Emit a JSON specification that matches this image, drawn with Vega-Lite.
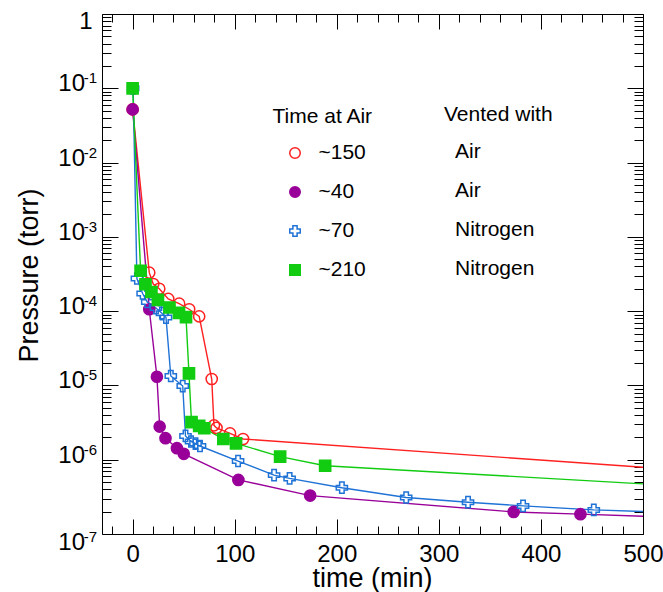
{
  "$schema": "https://vega.github.io/schema/vega-lite/v6.json",
  "width": 541,
  "height": 520,
  "autosize": {"type": "none"},
  "padding": {"left": 102, "top": 14, "right": 20, "bottom": 58},
  "background": "white",
  "config": {
    "font": "Liberation Sans",
    "view": {"stroke": "#000", "strokeWidth": 1},
    "axis": {"domain": false, "grid": false, "tickColor": "#000", "tickWidth": 1, "labelColor": "#000", "titleColor": "#000", "labelFont": "Liberation Sans", "titleFont": "Liberation Sans", "titleFontWeight": "normal", "labelFlush": false, "labelOverlap": false, "labelBound": false},
    "legend": {"padding": 0, "titleFontSize": 21, "labelFontSize": 21, "titleFontWeight": "normal", "titleColor": "#000", "labelColor": "#000", "titleFont": "Liberation Sans", "labelFont": "Liberation Sans", "rowPadding": 17, "titlePadding": 16, "symbolStrokeWidth": 1.5, "symbolSize": 110}
  },
  "data": {"values": [
    {"t": 0, "p": 0.052, "series": "~150", "group": "~150 Air"},
    {"t": 16.3, "p": 3.3e-4, "series": "~150", "group": "~150 Air"},
    {"t": 20.2, "p": 2.32e-4, "series": "~150", "group": "~150 Air"},
    {"t": 26.1, "p": 2.0e-4, "series": "~150", "group": "~150 Air"},
    {"t": 34.9, "p": 1.46e-4, "series": "~150", "group": "~150 Air"},
    {"t": 45.6, "p": 1.26e-4, "series": "~150", "group": "~150 Air"},
    {"t": 55.4, "p": 1.06e-4, "series": "~150", "group": "~150 Air"},
    {"t": 65.2, "p": 8.5e-5, "series": "~150", "group": "~150 Air"},
    {"t": 77.5, "p": 1.22e-5, "series": "~150", "group": "~150 Air"},
    {"t": 79.7, "p": 2.9e-6, "series": "~150", "group": "~150 Air"},
    {"t": 82.2, "p": 2.68e-6, "series": "~150", "group": "~150 Air"},
    {"t": 95.4, "p": 2.26e-6, "series": "~150", "group": "~150 Air"},
    {"t": 108.2, "p": 1.9e-6, "series": "~150", "group": "~150 Air"},
    {"t": 700, "p": 5.07e-7, "series": "~150", "group": "~150 Air"},
    {"t": 0, "p": 0.052, "series": "~40", "group": "~40 Air"},
    {"t": 16.3, "p": 1.06e-4, "series": "~40", "group": "~40 Air"},
    {"t": 23.8, "p": 1.31e-5, "series": "~40", "group": "~40 Air"},
    {"t": 26.5, "p": 2.79e-6, "series": "~40", "group": "~40 Air"},
    {"t": 32.2, "p": 1.95e-6, "series": "~40", "group": "~40 Air"},
    {"t": 43.4, "p": 1.43e-6, "series": "~40", "group": "~40 Air"},
    {"t": 50.1, "p": 1.2e-6, "series": "~40", "group": "~40 Air"},
    {"t": 103.6, "p": 5.35e-7, "series": "~40", "group": "~40 Air"},
    {"t": 173.9, "p": 3.29e-7, "series": "~40", "group": "~40 Air"},
    {"t": 373.3, "p": 1.98e-7, "series": "~40", "group": "~40 Air"},
    {"t": 438.7, "p": 1.85e-7, "series": "~40", "group": "~40 Air"},
    {"t": 700, "p": 1.4e-7, "series": "~40", "group": "~40 Air"},
    {"t": 0.5, "p": 0.1, "series": "~70", "group": "~70 Nitrogen"},
    {"t": 4.2, "p": 2.75e-4, "series": "~70", "group": "~70 Nitrogen"},
    {"t": 9.8, "p": 1.73e-4, "series": "~70", "group": "~70 Nitrogen"},
    {"t": 14.3, "p": 1.33e-4, "series": "~70", "group": "~70 Nitrogen"},
    {"t": 22.9, "p": 1.1e-4, "series": "~70", "group": "~70 Nitrogen"},
    {"t": 28.7, "p": 9.4e-5, "series": "~70", "group": "~70 Nitrogen"},
    {"t": 32.7, "p": 8.2e-5, "series": "~70", "group": "~70 Nitrogen"},
    {"t": 37.4, "p": 1.34e-5, "series": "~70", "group": "~70 Nitrogen"},
    {"t": 49.1, "p": 9.8e-6, "series": "~70", "group": "~70 Nitrogen"},
    {"t": 51.8, "p": 2.09e-6, "series": "~70", "group": "~70 Nitrogen"},
    {"t": 57.2, "p": 1.76e-6, "series": "~70", "group": "~70 Nitrogen"},
    {"t": 61.6, "p": 1.65e-6, "series": "~70", "group": "~70 Nitrogen"},
    {"t": 66, "p": 1.53e-6, "series": "~70", "group": "~70 Nitrogen"},
    {"t": 103.3, "p": 9.6e-7, "series": "~70", "group": "~70 Nitrogen"},
    {"t": 138.6, "p": 6.2e-7, "series": "~70", "group": "~70 Nitrogen"},
    {"t": 153.8, "p": 5.6e-7, "series": "~70", "group": "~70 Nitrogen"},
    {"t": 205, "p": 4.2e-7, "series": "~70", "group": "~70 Nitrogen"},
    {"t": 268, "p": 3.1e-7, "series": "~70", "group": "~70 Nitrogen"},
    {"t": 328.6, "p": 2.68e-7, "series": "~70", "group": "~70 Nitrogen"},
    {"t": 382.5, "p": 2.39e-7, "series": "~70", "group": "~70 Nitrogen"},
    {"t": 451.8, "p": 2.11e-7, "series": "~70", "group": "~70 Nitrogen"},
    {"t": 700, "p": 1.62e-7, "series": "~70", "group": "~70 Nitrogen"},
    {"t": 0, "p": 0.1, "series": "~210", "group": "~210 Nitrogen"},
    {"t": 7.8, "p": 3.5e-4, "series": "~210", "group": "~210 Nitrogen"},
    {"t": 12.6, "p": 2.3e-4, "series": "~210", "group": "~210 Nitrogen"},
    {"t": 18.4, "p": 1.81e-4, "series": "~210", "group": "~210 Nitrogen"},
    {"t": 24.8, "p": 1.42e-4, "series": "~210", "group": "~210 Nitrogen"},
    {"t": 36.1, "p": 1.12e-4, "series": "~210", "group": "~210 Nitrogen"},
    {"t": 45.4, "p": 9.5e-5, "series": "~210", "group": "~210 Nitrogen"},
    {"t": 52.3, "p": 8.3e-5, "series": "~210", "group": "~210 Nitrogen"},
    {"t": 55.2, "p": 1.45e-5, "series": "~210", "group": "~210 Nitrogen"},
    {"t": 57.7, "p": 3.2e-6, "series": "~210", "group": "~210 Nitrogen"},
    {"t": 65.2, "p": 2.85e-6, "series": "~210", "group": "~210 Nitrogen"},
    {"t": 70.2, "p": 2.65e-6, "series": "~210", "group": "~210 Nitrogen"},
    {"t": 88.9, "p": 1.9e-6, "series": "~210", "group": "~210 Nitrogen"},
    {"t": 101.3, "p": 1.66e-6, "series": "~210", "group": "~210 Nitrogen"},
    {"t": 144.5, "p": 1.1e-6, "series": "~210", "group": "~210 Nitrogen"},
    {"t": 188.6, "p": 8.3e-7, "series": "~210", "group": "~210 Nitrogen"},
    {"t": 700, "p": 3.3e-7, "series": "~210", "group": "~210 Nitrogen"}
  ]},
  "resolve": {"axis": {"x": "independent", "y": "independent"}},
  "layer": [
    {
      "mark": {"type": "line", "strokeWidth": 1.4, "clip": true},
      "encoding": {
        "x": {"field": "t", "type": "quantitative", "scale": {"domain": [-30, 500], "nice": false, "zero": false},
          "axis": {"orient": "bottom", "values": [0, 100, 200, 300, 400, 500], "ticks": false, "labelPadding": 8, "labelFontSize": 24, "title": "time (min)", "titleFontSize": 27, "titleX": 270, "titleY": 52, "titleBaseline": "alphabetic"}},
        "y": {"field": "p", "type": "quantitative", "scale": {"type": "log", "domain": [1e-7, 1], "nice": false},
          "axis": {"orient": "left", "values": [1e-7, 1e-6, 1e-5, 1e-4, 1e-3, 1e-2, 1e-1, 1], "ticks": false, "labelExpr": "datum.value >= 0.5 ? '1' : '10'", "labelPadding": {"expr": "datum.value >= 0.5 ? 10 : 17.5"}, "labelOffset": {"expr": "datum.value >= 0.5 ? 7 : (datum.value < 2e-7 ? 8 : -4.5)"}, "labelFontSize": 24, "title": "Pressure (torr)", "titleFontSize": 27, "titleAngle": -90, "titleX": -59, "titleY": 261, "titleBaseline": "bottom", "titleAlign": "center"}},
        "stroke": {"field": "series", "type": "nominal", "scale": {"domain": ["~150", "~40", "~70", "~210"], "range": ["#ff2020", "#990099", "#1f72d6", "#11cc11"]},
          "legend": {"title": "Time at Air", "orient": "none", "legendX": 170.5, "legendY": 91.5, "symbolOffset": 12, "labelOffset": 13}},
        "detail": {"field": "series"}
      }
    },
    {
      "mark": {"type": "point", "strokeWidth": 1.5, "clip": true, "opacity": 1, "size": 125},
      "encoding": {
        "x": {"field": "t", "type": "quantitative",
          "axis": {"orient": "bottom", "values": [0, 100, 200, 300, 400, 500], "labels": false, "tickSize": -15, "title": null}},
        "y": {"field": "p", "type": "quantitative",
          "axis": {"orient": "left", "values": [1e-7, 1e-6, 1e-5, 1e-4, 1e-3, 1e-2, 1e-1], "ticks": false, "labelExpr": "'-' + format(-log(datum.value)/LN10, '.0f')", "labelFontSize": 15, "labelPadding": 5.5, "labelOffset": {"expr": "datum.value < 2e-7 ? 2 : -10.5"}, "title": null}},
        "stroke": {"field": "series", "type": "nominal", "scale": {"domain": ["~150", "~40", "~70", "~210"], "range": ["#ff2020", "#990099", "#1f72d6", "#11cc11"]},
          "legend": {"title": "Time at Air", "orient": "none", "legendX": 170.5, "legendY": 91.5, "symbolOffset": 12, "labelOffset": 13}},
        "fill": {"field": "series", "type": "nominal", "scale": {"domain": ["~150", "~40", "~70", "~210"], "range": ["transparent", "#990099", "transparent", "#11cc11"]},
          "legend": {"title": "Time at Air", "orient": "none", "legendX": 170.5, "legendY": 91.5, "symbolOffset": 12, "labelOffset": 13}},
        "shape": {"field": "series", "type": "nominal", "scale": {"domain": ["~150", "~40", "~70", "~210"], "range": ["circle", "circle", "cross", "square"]},
          "legend": {"title": "Time at Air", "orient": "none", "legendX": 170.5, "legendY": 91.5, "symbolOffset": 12, "labelOffset": 13}},
        "opacity": {"field": "group", "type": "ordinal", "scale": {"domain": ["~150 Air", "~40 Air", "~70 Nitrogen", "~210 Nitrogen"], "range": [1, 1, 1, 1]},
          "legend": {"title": "Vented with", "orient": "top-right", "offset": 90, "labelExpr": "split(datum.label, ' ')[1]", "symbolSize": 0, "symbolStrokeWidth": 0, "symbolFillColor": "transparent", "symbolStrokeColor": "transparent", "symbolOffset": 0, "labelOffset": -10}}
      }
    },
    {
      "mark": {"type": "point", "opacity": 0},
      "encoding": {
        "x": {"field": "t", "type": "quantitative",
          "axis": {"orient": "bottom", "values": [-20, 20, 40, 60, 80, 120, 140, 160, 180, 220, 240, 260, 280, 320, 340, 360, 380, 420, 440, 460, 480], "labels": false, "tickSize": -8, "title": null}},
        "y": {"field": "p", "type": "quantitative",
          "axis": {"orient": "left", "values": [1e-7, 1e-6, 1e-5, 1e-4, 1e-3, 1e-2, 1e-1, 1], "labels": false, "tickSize": -16, "title": null}}
      }
    },
    {
      "mark": {"type": "point", "opacity": 0},
      "encoding": {
        "x": {"field": "t", "type": "quantitative",
          "axis": {"orient": "top", "values": [0, 100, 200, 300, 400, 500], "labels": false, "tickSize": -15, "title": null}},
        "y": {"field": "p", "type": "quantitative",
          "axis": {"orient": "left", "values": [2e-7, 3e-7, 4e-7, 5e-7, 6e-7, 7e-7, 8e-7, 9e-7, 2e-6, 3e-6, 4e-6, 5e-6, 6e-6, 7e-6, 8e-6, 9e-6, 2e-5, 3e-5, 4e-5, 5e-5, 6e-5, 7e-5, 8e-5, 9e-5, 2e-4, 3e-4, 4e-4, 5e-4, 6e-4, 7e-4, 8e-4, 9e-4, 2e-3, 3e-3, 4e-3, 5e-3, 6e-3, 7e-3, 8e-3, 9e-3, 2e-2, 3e-2, 4e-2, 5e-2, 6e-2, 7e-2, 8e-2, 9e-2, 0.2, 0.3, 0.4, 0.5, 0.6, 0.7, 0.8, 0.9], "labels": false, "tickSize": -9, "title": null}}
      }
    },
    {
      "mark": {"type": "point", "opacity": 0},
      "encoding": {
        "x": {"field": "t", "type": "quantitative",
          "axis": {"orient": "top", "values": [-20, 20, 40, 60, 80, 120, 140, 160, 180, 220, 240, 260, 280, 320, 340, 360, 380, 420, 440, 460, 480], "labels": false, "tickSize": -8, "title": null}},
        "y": {"field": "p", "type": "quantitative",
          "axis": {"orient": "right", "values": [1e-7, 1e-6, 1e-5, 1e-4, 1e-3, 1e-2, 1e-1, 1], "labels": false, "tickSize": -16, "title": null}}
      }
    },
    {
      "mark": {"type": "point", "opacity": 0},
      "encoding": {
        "x": {"field": "t", "type": "quantitative", "axis": null},
        "y": {"field": "p", "type": "quantitative",
          "axis": {"orient": "right", "values": [2e-7, 3e-7, 4e-7, 5e-7, 6e-7, 7e-7, 8e-7, 9e-7, 2e-6, 3e-6, 4e-6, 5e-6, 6e-6, 7e-6, 8e-6, 9e-6, 2e-5, 3e-5, 4e-5, 5e-5, 6e-5, 7e-5, 8e-5, 9e-5, 2e-4, 3e-4, 4e-4, 5e-4, 6e-4, 7e-4, 8e-4, 9e-4, 2e-3, 3e-3, 4e-3, 5e-3, 6e-3, 7e-3, 8e-3, 9e-3, 2e-2, 3e-2, 4e-2, 5e-2, 6e-2, 7e-2, 8e-2, 9e-2, 0.2, 0.3, 0.4, 0.5, 0.6, 0.7, 0.8, 0.9], "labels": false, "tickSize": -9, "title": null}}
      }
    }
  ]
}
